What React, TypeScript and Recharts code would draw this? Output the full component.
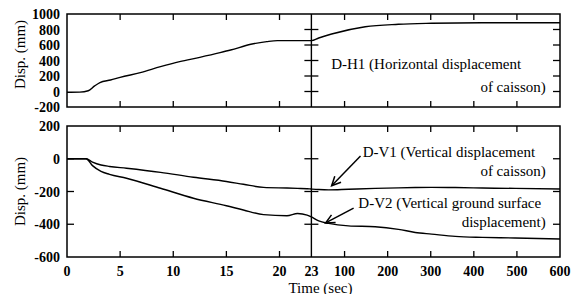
import { Line, LineChart, ReferenceDot, ReferenceLine, XAxis, YAxis } from "recharts";

// broken time axis: 0-23 s linear, then 23-600 s squeezed
const SPLIT = 23;
const K = 0.04055;
const toX = (t: number) => (t <= SPLIT ? t : SPLIT + (t - SPLIT) * K);
const fromX = (x: number) => (x <= SPLIT + 1e-6 ? x : SPLIT + (x - SPLIT) / K);
const X_MAX = toX(600);

const timeTicks = [0, 5, 10, 15, 20, 23, 100, 200, 300, 400, 500, 600];
const innerTimeTicks = [5, 10, 15, 20, 100, 200, 300, 400, 500];

const topTicks = [-200, 0, 200, 400, 600, 800, 1000];
const topInnerTicks = [0, 200, 400, 600, 800];
const bottomTicks = [-600, -400, -200, 0, 200];
const bottomInnerTicks = [-400, -200, 0];

// D-H1 horizontal displacement of caisson
const hTime = [0, 1.2, 2.0, 2.6, 3.1, 4.1, 5.0, 6.9, 8.8, 10.6, 12.5, 14.4, 15.4, 17.3, 18.8, 19.8, 22, 23, 40, 70, 148, 225, 302, 418, 600];
const h1Disp = [-10, -8, 10, 72, 115, 148, 183, 243, 320, 385, 441, 501, 535, 609, 643, 656, 656, 656, 690, 742, 836, 867, 880, 888, 888];

// D-V1 (caisson) and D-V2 (ground surface) vertical displacement
const vTime = [0, 1.8, 2.4, 3.2, 4.0, 5.6, 8.8, 11.9, 15.0, 16.6, 18.5, 20.7, 21.7, 22.6, 23, 40, 63, 109, 171, 225, 264, 302, 357, 420, 496, 600];
const v1Disp = [0, 0, -20, -38, -47, -58, -83, -113, -139, -156, -175, -179, -181, -183, -185, -188, -190, -186, -181, -178, -176, -175, -176, -179, -181, -185];
const v2Disp = [0, 0, -42, -77, -95, -119, -180, -241, -287, -313, -341, -348, -334, -344, -355, -380, -395, -410, -415, -431, -450, -460, -474, -480, -484, -490];

const topData = hTime.map((t, i) => ({ x: toX(t), h1: h1Disp[i] }));
const bottomData = vTime.map((t, i) => ({ x: toX(t), v1: v1Disp[i], v2: v2Disp[i] }));
const tickX = timeTicks.map(toX);
const xDomain = [0, X_MAX];

// plot boxes (page pixels) shared by the charts and the frame overlay
const PLOT_L = 67;
const PLOT_R = 560;
const TOP_BOX = { y0: 14, y1: 107, lo: -200, hi: 1000 };
const BOT_BOX = { y0: 126, y1: 257, lo: -600, hi: 200 };
const px = (t: number) => PLOT_L + (toX(t) / X_MAX) * (PLOT_R - PLOT_L);
const pyFor = (b: any) => (v: number) => b.y0 + ((b.hi - v) / (b.hi - b.lo)) * (b.y1 - b.y0);

const XT = (p: any) => (
  <text x={p.x} y={p.y + 19} textAnchor="middle" fontFamily="Liberation Serif" fontWeight="bold" fontSize={14}>
    {Math.round(fromX(p.payload.value))}
  </text>
);

const YT = (p: any) => (
  <text x={p.x - 7} y={p.y + 5} textAnchor="end" fontFamily="Liberation Serif" fontWeight="bold" fontSize={14}>
    {p.payload.value}
  </text>
);

const dispLabel = (shift: number) => (p: any) => {
  const vb = p.viewBox || { y: 0, height: 0 };
  const cy = vb.y + vb.height / 2 + shift;
  return (
    <text x={20} y={cy} transform={`rotate(-90 20 ${cy})`} textAnchor="middle" dy={5} fontFamily="Liberation Serif" fontSize={15}>
      Disp. (mm)
    </text>
  );
};
const dispTop = dispLabel(-6);
const dispBottom = dispLabel(0);

const timeLabel = (p: any) => {
  const vb = p.viewBox || { x: 0, y: 0, width: 0 };
  return (
    <text x={vb.x + vb.width / 2 + 7} y={vb.y + 36} textAnchor="middle" fontFamily="Liberation Serif" fontSize={15}>
      Time (sec)
    </text>
  );
};

const Arrow = (p: any) => {
  const { x1, y1, x2, y2 } = p;
  const a = Math.atan2(y2 - y1, x2 - x1);
  const L = 10;
  const q1 = [x2 - L * Math.cos(a - 0.45), y2 - L * Math.sin(a - 0.45)];
  const q2 = [x2 - L * Math.cos(a + 0.45), y2 - L * Math.sin(a + 0.45)];
  return (
    <g stroke="black" strokeWidth={1.5} fill="none">
      <line x1={x1} y1={y1} x2={x2} y2={y2} />
      <polyline points={`${q1[0]},${q1[1]} ${x2},${y2} ${q2[0]},${q2[1]}`} />
    </g>
  );
};

const ann = (text: string, anchor: "start" | "end") => ({
  value: text,
  position: anchor === "start" ? "right" : "left",
  offset: 0,
  fill: "black",
  fontSize: 15,
  fontFamily: "Liberation Serif"
});

const topNotes = [
  { x: toX(69), y: 355, label: ann("D-H1 (Horizontal displacement", "start") },
  { x: toX(567), y: 60, label: ann("of caisson)", "end") }
];
const bottomNotes = [
  { x: toX(142), y: 43, label: ann("D-V1 (Vertical displacement", "start") },
  { x: toX(567), y: -75, label: ann("of caisson)", "end") },
  { x: toX(132), y: -270, label: ann("D-V2 (Vertical ground surface", "start") },
  { x: toX(567), y: -385, label: ann("displacement)", "end") }
];
const arrowA = [{ x: toX(137), y: 17 }, { x: toX(70), y: -165 }];
const arrowB = [{ x: toX(121), y: -301 }, { x: toX(56), y: -392 }];

const topMargin = { top: 14, right: 28, bottom: 0, left: 0 };
const bottomMargin = { top: 8, right: 28, bottom: 0, left: 0 };
const xTick = <XT />;
const yTick = <YT />;

// box, border ticks, split line with crossing ticks
function Frame({ box, inner, leftInner }: any) {
  const py = pyFor(box);
  const xs = px(SPLIT);
  return (
    <g stroke="black" fill="none">
      <rect x={PLOT_L} y={box.y0} width={PLOT_R - PLOT_L} height={box.y1 - box.y0} strokeWidth={1.5} />
      {innerTimeTicks.map((t) => (
        <g key={t} strokeWidth={1.3}>
          <line x1={px(t)} x2={px(t)} y1={box.y0} y2={box.y0 + 6} />
          <line x1={px(t)} x2={px(t)} y1={box.y1} y2={box.y1 - 6} />
        </g>
      ))}
      {inner.map((v: number) => (
        <g key={v} strokeWidth={1.3}>
          <line x1={PLOT_R} x2={PLOT_R - 7} y1={py(v)} y2={py(v)} />
          <line x1={xs - 7} x2={xs + 7} y1={py(v)} y2={py(v)} />
        </g>
      ))}
      {leftInner.map((v: number) => (
        <line key={`l${v}`} x1={PLOT_L} x2={PLOT_L + 7} y1={py(v)} y2={py(v)} strokeWidth={1.3} />
      ))}
      <line x1={xs} x2={xs} y1={box.y0} y2={box.y1} strokeWidth={1.4} />
    </g>
  );
}

export default function App() {
  return (
    <div style={{ position: "relative", width: 588, height: 302, margin: -8, background: "#fff" }}>
      <LineChart width={588} height={118} data={topData} margin={topMargin}>
        <XAxis dataKey="x" type="number" domain={xDomain} ticks={tickX} interval={0} height={11} axisLine={false} tickLine={false} tick={false} />
        <YAxis type="number" domain={[-200, 1000]} ticks={topTicks} interval={0} width={67} tickSize={0} tickMargin={0} axisLine={false} tickLine={false} tick={yTick} label={dispTop} />
        <Line dataKey="h1" type="monotone" dot={false} stroke="black" strokeWidth={1.4} isAnimationActive={false} />
        {topNotes.map((n, i) => (
          <ReferenceDot key={i} x={n.x} y={n.y} r={0} fill="none" stroke="none" label={n.label} />
        ))}
      </LineChart>
      <LineChart width={588} height={184} data={bottomData} margin={bottomMargin}>
        <XAxis dataKey="x" type="number" domain={xDomain} ticks={tickX} interval={0} height={45} tickSize={0} tickMargin={0} axisLine={false} tickLine={false} tick={xTick} label={timeLabel} />
        <YAxis type="number" domain={[-600, 200]} ticks={bottomTicks} interval={0} width={67} tickSize={0} tickMargin={0} axisLine={false} tickLine={false} tick={yTick} label={dispBottom} />
        <Line dataKey="v1" type="monotone" dot={false} stroke="black" strokeWidth={1.4} isAnimationActive={false} />
        <Line dataKey="v2" type="monotone" dot={false} stroke="black" strokeWidth={1.4} isAnimationActive={false} />
        {bottomNotes.map((n, i) => (
          <ReferenceDot key={i} x={n.x} y={n.y} r={0} fill="none" stroke="none" label={n.label} />
        ))}
        <ReferenceLine segment={arrowA} shape={Arrow} />
        <ReferenceLine segment={arrowB} shape={Arrow} />
      </LineChart>
      <svg width={588} height={302} style={{ position: "absolute", left: 0, top: 0, pointerEvents: "none" }}>
        <Frame box={TOP_BOX} inner={topInnerTicks} leftInner={[]} />
        <Frame box={BOT_BOX} inner={bottomInnerTicks} leftInner={bottomInnerTicks} />
      </svg>
    </div>
  );
}
